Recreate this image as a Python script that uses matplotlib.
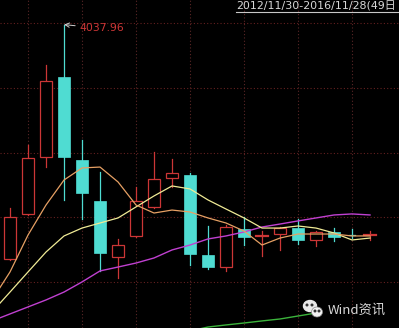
import matplotlib
matplotlib.use('Agg')
import matplotlib.pyplot as plt
from matplotlib.patches import Rectangle, Ellipse
from matplotlib.lines import Line2D
import numpy as np

# candles: open, high, low, close
opens  = [2228, 2576, 3016, 3633, 2992, 2676, 2244, 2406, 2630, 2853, 2877,
          2259, 2166, 2460, 2398, 2421, 2467, 2375, 2436, 2417, 2410]
highs  = [2622, 3108, 3726, 4037.96, 3147, 2900, 2383, 2784, 3054, 3000, 2892,
          2483, 2491, 2552, 2444, 2475, 2537, 2445, 2467, 2460, 2444]
lows   = [2220, 2570, 2938, 2684, 2537, 2135, 2081, 2400, 2625, 2784, 2182,
          2150, 2135, 2336, 2251, 2298, 2344, 2328, 2367, 2390, 2375]
closes = [2552, 3008, 3602, 3016, 2738, 2274, 2336, 2676, 2846, 2892, 2267,
          2166, 2475, 2398, 2406, 2467, 2375, 2436, 2398, 2413, 2414]

# moving averages, first value belongs to the bar just left of the view
ma5  = [1912, 2128, 2413, 2645, 2838, 2931, 2938, 2823, 2645, 2583, 2606,
        2591, 2545, 2506, 2444, 2336, 2390, 2421, 2421, 2421, 2406, 2406]
ma10 = [1819, 1973, 2128, 2282, 2406, 2467, 2506, 2545, 2630, 2715, 2792,
        2769, 2684, 2614, 2545, 2467, 2467, 2483, 2467, 2429, 2375, 2390]
ma20 = [1750, 1804, 1858, 1912, 1973, 2051, 2136, 2166, 2197, 2236, 2298,
        2336, 2383, 2406, 2437, 2475, 2498, 2522, 2545, 2568, 2576, 2568]
ma60_start = 10
ma60 = [1672, 1703, 1719, 1734, 1750, 1765, 1788, 1811]

grid_prices = [4050, 3550, 3050, 2550, 2050]
grid_bars = [1, 4, 7, 10, 13, 16, 19]

title = '2012/11/30-2016/11/28(49日'
high_label = '4037.96'
watermark = 'Wind资讯'

RED = '#cc3636'
CYAN = '#4fdcd2'
W = 0.72

fig = plt.figure(figsize=(3.99, 3.28), dpi=100, facecolor='black')
ax = fig.add_axes([0, 0, 1, 1])
ax.set_facecolor('black')
ax.set_xlim(-0.556, 21.61)
ax.set_ylim(1695.4, 4227.6)
ax.set_axis_off()

for p in grid_prices:
    ax.axhline(p, color='#642020', lw=0.8, ls=(0, (1, 2)), zorder=1)
for b in grid_bars:
    ax.axvline(b, color='#5a2626', lw=0.8, ls=(0, (1, 2)), zorder=1)

for i in range(len(opens)):
    o, h, l, c = opens[i], highs[i], lows[i], closes[i]
    top, bot = max(o, c), min(o, c)
    if c >= o:
        ax.plot([i, i], [top, h], color=RED, lw=0.9, zorder=2)
        ax.plot([i, i], [l, bot], color=RED, lw=0.9, zorder=2)
        if top - bot < 12:
            ax.plot([i - W / 2, i + W / 2], [c, c], color=RED, lw=1.6, zorder=3)
        else:
            ax.add_patch(Rectangle((i - W / 2, bot), W, top - bot, facecolor='black',
                                   edgecolor=RED, lw=0.9, zorder=3))
    else:
        ax.plot([i, i], [l, h], color=CYAN, lw=0.9, zorder=2)
        if top - bot < 12:
            ax.plot([i - W / 4, i + W / 4], [c, c], color=CYAN, lw=0.9, zorder=3)
        else:
            ax.add_patch(Rectangle((i - W / 2, bot), W, top - bot, facecolor=CYAN,
                                   edgecolor=CYAN, lw=0.5, zorder=3))

xs = np.arange(-1, len(ma5) - 1)
ax.plot(xs, ma20, color='#c040d0', lw=1.0, zorder=4)
ax.plot(xs, ma10, color='#f0eb96', lw=0.9, zorder=4)
ax.plot(xs, ma5, color='#e6a064', lw=0.9, zorder=4)
ax.plot(np.arange(ma60_start, ma60_start + len(ma60)), ma60, color='#3cb43c', lw=1.0, zorder=4)

# high marker
hi = int(np.argmax(highs))
ax.annotate(high_label, xy=(hi, highs[hi]), xytext=(hi + 0.85, highs[hi] - 30),
            color=RED, fontsize=7.8, va='center', ha='left',
            arrowprops=dict(arrowstyle='->', color='#d0d0d0', lw=0.7,
                            shrinkA=1, shrinkB=0), zorder=6)

# date range title, clipped at the right edge
fig.text(236 / 399, 1 - 6 / 328, title, color='#d8d8d8', fontsize=7.9,
         va='center', ha='left', family=['DejaVu Sans', 'Noto Sans CJK SC'])
fig.add_artist(Line2D([236 / 399, 1], [1 - 12 / 328, 1 - 12 / 328],
                      color='#c8c8c8', lw=0.8))

# watermark
def fx(x):
    return x / 399

def fy(y):
    return 1 - y / 328

fig.add_artist(Ellipse((fx(310), fy(306)), 13 / 399, 11 / 328, color='#e8e8e8', zorder=10))
fig.add_artist(Ellipse((fx(317), fy(312)), 11 / 399, 10 / 328, color='#f2f2f2',
                       ec='#888888', lw=0.5, zorder=11))
for ex, ey in [(307, 305), (312, 305), (315, 311), (319, 311)]:
    fig.add_artist(Ellipse((fx(ex), fy(ey)), 1.6 / 399, 1.6 / 328, color='#333333', zorder=12))
fig.text(fx(328), fy(310), watermark, color='#d8d8d8', fontsize=9.5, va='center',
         ha='left', family=['Noto Sans CJK SC', 'DejaVu Sans'], zorder=12)

fig.savefig('out.png', dpi=100, facecolor='black')
